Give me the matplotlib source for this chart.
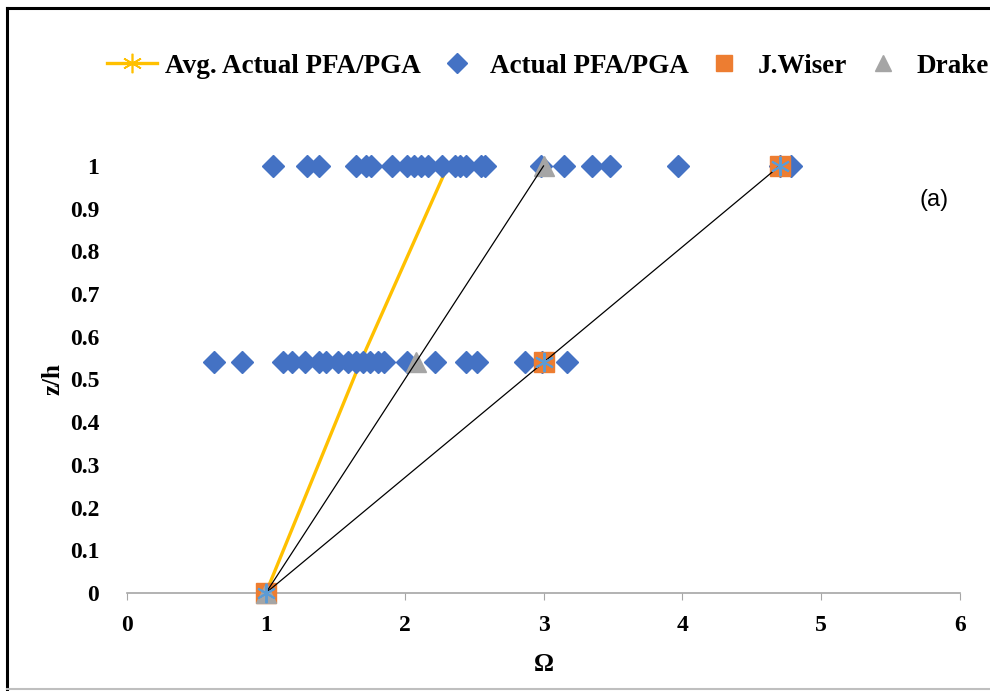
import matplotlib.pyplot as plt
from matplotlib.lines import Line2D

plt.rcParams["font.family"] = ["Liberation Serif", "DejaVu Serif"]

# measured peak floor acceleration ratios at the two instrumented heights
actual_top = [1.05, 1.30, 1.38, 1.65, 1.72, 1.76, 1.91, 2.02, 2.07, 2.12,
              2.17, 2.27, 2.36, 2.40, 2.44, 2.55, 2.58, 2.98, 3.15, 3.35,
              3.48, 3.97, 4.70, 4.78]
actual_mid = [0.63, 0.83, 1.12, 1.19, 1.28, 1.38, 1.43, 1.52, 1.59, 1.65,
              1.70, 1.75, 1.81, 1.85, 2.02, 2.22, 2.44, 2.52, 2.87, 2.99,
              3.17]
z_top = 1.0
z_mid = 0.54

avg_omega = [1.0, 1.68, 2.31]
wiser_omega = [1.0, 3.0, 4.7]
drake_omega = [1.0, 2.08, 3.0]
z_levels = [0.0, 0.54, 1.0]

xticks = [0, 1, 2, 3, 4, 5, 6]
yticks = [0, 0.1, 0.2, 0.3, 0.4, 0.5, 0.6, 0.7, 0.8, 0.9, 1]

GOLD = "#FFC000"
BLUE = "#4472C4"
ORANGE = "#ED7D31"
GRAY = "#A5A5A5"
LIGHTBLUE = "#5B9BD5"
ASTERISK = (6, 2, 0)

fig = plt.figure(figsize=(9.9, 6.91), dpi=100)
ax = fig.add_axes([0.1283, 0.1418, 0.9697 - 0.1283, 0.7598 - 0.1418])

ax.plot(avg_omega, z_levels, color=GOLD, lw=2.4, zorder=2, clip_on=False)
ax.plot(actual_top, [z_top] * len(actual_top), "D", color=BLUE, ms=11,
        ls="none", zorder=3, clip_on=False)
ax.plot(actual_mid, [z_mid] * len(actual_mid), "D", color=BLUE, ms=11,
        ls="none", zorder=3, clip_on=False)
ax.plot(wiser_omega, z_levels, "s", color=ORANGE, ms=14, ls="none",
        zorder=4, clip_on=False)
ax.plot(drake_omega, z_levels, "^", color=GRAY, ms=14, ls="none",
        zorder=5, clip_on=False)
ax.plot(wiser_omega, z_levels, color="black", lw=0.9, zorder=6, clip_on=False)
ax.plot(drake_omega, z_levels, color="black", lw=0.9, zorder=6, clip_on=False)
ax.plot(wiser_omega, z_levels, marker=ASTERISK, color=LIGHTBLUE, ms=14,
        mew=1.4, ls="none", zorder=7, clip_on=False)

ax.set_xlim(0, 6)
ax.set_ylim(0, 1)
ax.set_xticks(xticks)
ax.set_yticks(yticks)
ax.set_yticklabels([f"{t:g}" for t in yticks])
for s in ["top", "right", "left"]:
    ax.spines[s].set_visible(False)
ax.spines["bottom"].set_color("#A6A6A6")
ax.spines["bottom"].set_linewidth(1.2)
ax.tick_params(axis="x", direction="out", length=5, color="#A6A6A6",
               labelsize=17, pad=11)
ax.tick_params(axis="y", length=0, labelsize=17, pad=20)
for lab in ax.get_xticklabels() + ax.get_yticklabels():
    lab.set_fontweight("bold")

ax.set_xlabel("Ω", fontsize=18, fontweight="bold", labelpad=12)
ax.set_ylabel("z/h", fontsize=18, fontweight="bold", labelpad=4)

ax.text(5.81, 0.92, "(a)", fontsize=17, family="Liberation Sans",
        ha="center", va="center")

handles = [
    Line2D([], [], color=GOLD, lw=2.4, marker=ASTERISK, ms=14, mew=1.2),
    Line2D([], [], color=BLUE, marker="D", ls="none", ms=10),
    Line2D([], [], color=ORANGE, marker="s", ls="none", ms=12),
    Line2D([], [], color=GRAY, marker="^", ls="none", ms=12),
]
labels = ["Avg. Actual PFA/PGA", "Actual PFA/PGA", "J.Wiser", "Drake"]
fig.legend(handles, labels, loc="center", bbox_to_anchor=(0.553, 0.904),
           ncol=4, frameon=False, prop={"weight": "bold", "size": 19.5},
           handlelength=1.85, handletextpad=0.3, columnspacing=0.4,
           borderpad=0.1)

# outer frame lines
fig.add_artist(Line2D([0.0075, 0.0075], [0.0, 0.9885], color="black", lw=2.2,
                      transform=fig.transFigure))
fig.add_artist(Line2D([0.0075, 1.0], [0.9885, 0.9885], color="black", lw=2.2,
                      transform=fig.transFigure))
fig.add_artist(Line2D([0.0075, 1.0], [0.003, 0.003], color="#BFBFBF", lw=1.5,
                      transform=fig.transFigure))

fig.savefig("out.png", dpi=100)
